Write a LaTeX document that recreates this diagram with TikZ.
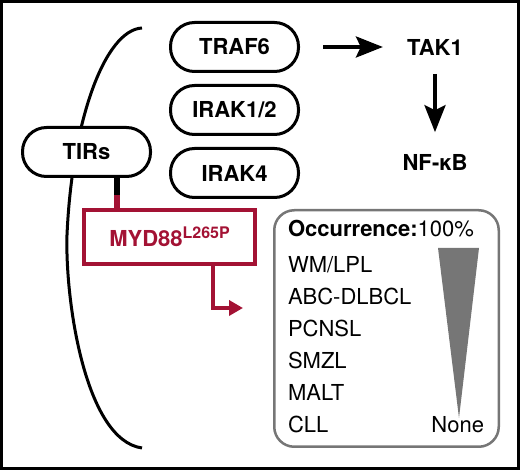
\documentclass[tikz,border=0pt]{standalone}
\usepackage{fontspec}
\setmainfont{TeX Gyre Heros}
\usetikzlibrary{arrows.meta,positioning}
\definecolor{mydred}{RGB}{163,18,52}
\definecolor{occgray}{RGB}{118,118,118}

\begin{document}
\begin{tikzpicture}[x=1pt,y=-1pt
  ,>={Stealth[length=27pt,width=21pt,inset=5pt]}
  ,line width=3pt]
  \tikzstyle{pill}
  =[draw,fill=white,rounded corners=24pt
  ,minimum width=128pt,minimum height=49pt
  ,font=\fontsize{22}{26}\selectfont\bfseries]
  \tikzstyle{label}
  =[font=\fontsize{22}{26}\selectfont\bfseries]
  \tikzstyle{mydbox}
  =[draw=mydred,text=mydred,line width=4pt
  ,minimum width=171pt,minimum height=54pt
  ,font=\fontsize{22}{26}\selectfont\bfseries]
  \tikzstyle{occbox}
  =[draw=occgray,line width=2.5pt,rounded corners=20pt
  ,minimum width=224.5pt,minimum height=236.5pt]
  \tikzstyle{item}
  =[inner sep=0pt,outer sep=0pt,text height=16pt,text depth=0pt
  ,font=\fontsize{22}{26}\selectfont]

  \useasboundingbox (0,0) rectangle (520,470);
  \draw (1.5,1.5) rectangle (518.5,468.5);

  % membrane bracket
  \draw (142,28) .. controls (105,30) and (72,120) .. (67,235)
    .. controls (65,300) and (85,440) .. (142,448);

  \node[pill] (traf6) at (234.5,47) {TRAF6};
  \node[pill,below=11pt of traf6] (irak12) {IRAK1/2};
  \node[pill,below=11pt of irak12] (irak4) {IRAK4};
  \node[pill] (tirs) at (86.5,152) {TIRs};

  \node[label] (tak1) at (435,47) {TAK1};
  \node[label] (nfkb) at (435,162) {NF-κB};

  \node[mydbox] (myd) at (169.5,237)
    {MYD88\raisebox{8pt}{\fontsize{16}{16}\selectfont L265P}};

  \node[occbox] (occ) at (386.5,328.5) {};
  \node[item,anchor=base west] (occhead) at (288,237)
    {\textbf{Occurrence:}100\%};
  \node[item,anchor=base west] (wm) at (288,273) {WM/LPL};
  \node[item,below right=16pt and 0pt of wm.south west] (abc) {ABC-DLBCL};
  \node[item,below right=16pt and 0pt of abc.south west] (pcnsl) {PCNSL};
  \node[item,below right=16pt and 0pt of pcnsl.south west] (smzl) {SMZL};
  \node[item,below right=16pt and 0pt of smzl.south west] (malt) {MALT};
  \node[item,below right=16pt and 0pt of malt.south west] (cll) {CLL};
  \node[item,anchor=base east] (none)
    at ([xshift=-16pt]occ.east |- cll.base) {None};

  % occurrence wedge
  \fill[occgray] (438,248) -- (479,248) -- (459,418) -- cycle;

  \path[->,line width=4pt]
  (traf6) edge [shorten <=23pt,shorten >=19.5pt] (tak1)
  (tak1)  edge [shorten <=14pt,shorten >=17pt]   (nfkb)
  ;

  \draw[line width=6pt] ([xshift=30.5pt]tirs.south) -- ++(0,17)
    coordinate (tirsjoin);
  \draw[mydred,line width=6pt] (tirsjoin) -- (tirsjoin |- myd.north);

  \coordinate (mydout) at (243,308);
  \draw[mydred,line width=4pt,-{Triangle[length=14pt,width=15pt]}]
    ([xshift=43.5pt]myd.south) |- (mydout);

\end{tikzpicture}
\end{document}
